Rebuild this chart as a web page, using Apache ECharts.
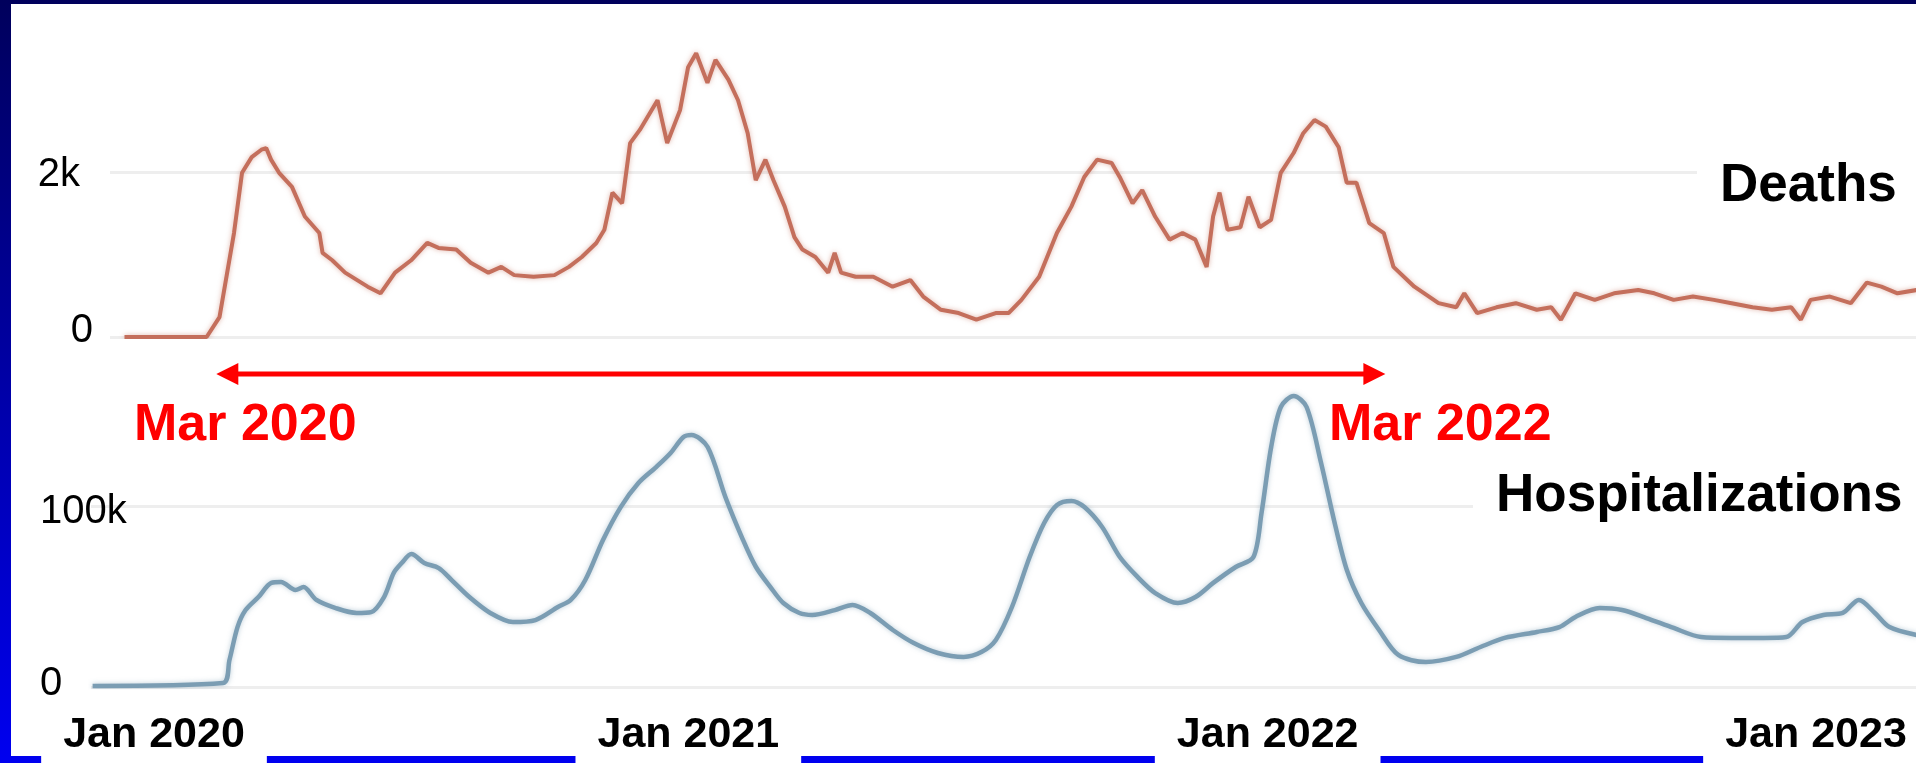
<!DOCTYPE html>
<html>
<head>
<meta charset="utf-8">
<title>Deaths and Hospitalizations</title>
<script src="https://cdn.jsdelivr.net/npm/echarts@6.0.0/dist/echarts.min.js"></script>
<style>
html, body { margin: 0; padding: 0; }
body {
	width: 1916px; height: 763px; overflow: hidden; position: relative;
	background: linear-gradient(to bottom, #00005c 0%, #0000f0 100%);
}
#panel { position: absolute; left: 11px; top: 4px; width: 1905px; height: 752px; background: #fff; }
#GouFang_chart { position: absolute; left: 0; top: 0; width: 1916px; height: 763px; }
</style>
</head>
<body>
<div id="panel"></div>
<div id="GouFang_chart"></div>
<script>
// days counted from 2020-01-01
var deathsDay = [
	21, 72, 80, 89, 94, 100, 106, 109, 112, 117,
	125, 133, 142, 144, 150, 158, 172, 180, 189, 199,
	209, 216, 227, 236, 247, 255, 263, 275, 288, 297,
	305, 314, 319, 324, 330, 335, 341, 352, 358, 366,
	371, 376, 383, 388, 396, 402, 408, 413, 419, 424,
	431, 437, 442, 450, 458, 462, 466, 475, 486, 498,
	509, 517, 528, 539, 550, 562, 570, 578, 589, 600,
	609, 617, 625, 634, 639, 647, 653, 661, 670, 678,
	686, 693, 697, 701, 706, 714, 719, 726, 733, 739,
	747, 753, 760, 767, 775, 780, 786, 794, 803, 809,
	822, 837, 848, 853, 861, 873, 885, 898, 907, 913,
	922, 934, 946, 961, 971, 983, 995, 1008, 1019, 1032,
	1044, 1056, 1062, 1068, 1080, 1093, 1103, 1112, 1122, 1134
];
var deathsValue = [
	0, 0, 240, 1260, 1990, 2180, 2270, 2290, 2150, 1990,
	1820, 1460, 1260, 1020, 930, 780, 610, 530, 780, 930,
	1140, 1080, 1060, 900, 780, 850, 750, 730, 750, 850,
	970, 1140, 1300, 1750, 1620, 2350, 2510, 2870, 2350, 2750,
	3270, 3440, 3080, 3360, 3120, 2870, 2470, 1900, 2150, 1900,
	1580, 1210, 1060, 970, 780, 1020, 780, 730, 730, 610,
	690, 490, 330, 290, 210, 290, 290, 450, 730, 1260,
	1580, 1940, 2150, 2110, 1940, 1620, 1780, 1460, 1180, 1260,
	1180, 850, 1460, 1750, 1300, 1330, 1700, 1330, 1420, 1990,
	2230, 2470, 2630, 2550, 2300, 1870, 1870, 1380, 1260, 850,
	610, 410, 360, 530, 290, 360, 410, 330, 360, 210,
	530, 450, 530, 570, 530, 450, 490, 450, 410, 360,
	330, 360, 210, 450, 490, 410, 660, 610, 530, 570
];
var hospDay = [
	1, 82, 86, 91, 96, 104, 112, 118, 127, 132,
	140, 152, 165, 174, 182, 188, 193, 199, 207, 216,
	224, 235, 248, 262, 276, 290, 298, 307, 318, 329,
	340, 351, 360, 368, 373, 383, 394, 405, 413, 422,
	430, 440, 448, 462, 473, 484, 498, 511, 526, 542,
	553, 562, 572, 583, 592, 600, 609, 617, 628, 639,
	650, 661, 675, 686, 697, 711, 722, 727, 733, 739,
	747, 755, 764, 772, 780, 789, 800, 812, 829, 848,
	863, 878, 898, 912, 922, 937, 951, 966, 983, 1000,
	1019, 1039, 1053, 1063, 1076, 1088, 1098, 1108, 1117, 1134
];
var hospValue = [
	600, 2200, 14900, 33100, 42500, 49700, 57500, 58000, 53600, 55200,
	48100, 43600, 40900, 41400, 49700, 63000, 68500, 73500, 68500, 65700,
	59100, 49700, 40900, 35900, 37000, 44200, 48100, 59100, 81200, 99400,
	112700, 121500, 129300, 138100, 139200, 132600, 105000, 81200, 66300, 55200,
	46400, 40900, 39800, 42500, 45300, 40900, 31500, 24300, 18800, 16600,
	19300, 26000, 44200, 71800, 90600, 100600, 102800, 99400, 88400, 71800,
	60800, 51900, 46400, 49700, 57500, 66300, 71800, 96100, 132600, 154700,
	160800, 154700, 123800, 92300, 64600, 46400, 31500, 17700, 13800, 16600,
	22100, 27100, 30400, 33100, 38700, 43600, 42500, 38100, 32600, 27600,
	27100, 27100, 27600, 35900, 39800, 40900, 48100, 40900, 33100, 28700
];
var yearLabels = ['Jan 2020', 'Jan 2021', 'Jan 2022', 'Jan 2023'];
var arrowDates = ['2020-03-19', '2022-03-15'];
var arrowLabels = ['Mar 2020', 'Mar 2022'];

var FONT = '"Liberation Sans", Arial, sans-serif';
var t0 = Date.UTC(2020, 0, 1);
function dayToTime(d) { return t0 + d * 86400000; }
function kLabel(v) { return v === 0 ? '0' : (v / 1000) + 'k'; }
function $extend(a, b) {
	var o = {}, key;
	for (key in a) o[key] = a[key];
	for (key in b) o[key] = b[key];
	return o;
}

var deathsData = [];
for (var i = 0; i < deathsDay.length; i++) deathsData.push([dayToTime(deathsDay[i]), deathsValue[i]]);
var hospData = [];
for (var j = 0; j < hospDay.length; j++) hospData.push([dayToTime(hospDay[j]), hospValue[j]]);

var myChart = echarts.init(document.getElementById('GouFang_chart'));

var gridLine = { lineStyle: { color: '#eeeeee', width: 3 }, showMaxLine: false };
var tickFont = { fontFamily: FONT, fontSize: 40, color: '#000' };
var labelText = { fontFamily: FONT, fontWeight: 'bold', fontSize: 53, lineHeight: 60, color: '#000' };
var redText = { fontFamily: FONT, fontWeight: 'bold', fontSize: 52, lineHeight: 60, color: '#ff0000' };

// year labels sit a bit off an even spacing in the original slide: nudge them (px)
var yearNudge = [7, -15, 8, 0];
var yearRich = {
	b: {
		fontFamily: FONT, fontSize: 43, fontWeight: 'bold', color: '#000', lineHeight: 46,
		backgroundColor: '#fff', padding: [12, 22, 14, 22]
	}
};
for (var n = 0; n < yearNudge.length; n++) {
	yearRich['g' + n] = { width: Math.abs(yearNudge[n]) * 2, lineHeight: 46 };
}

var option = {
	animation: false,
	backgroundColor: 'transparent',
	grid: [
		{ left: 110, right: 0, top: 7, height: 330, outerBoundsMode: 'none' },
		{ left: 91, right: 0, top: 325, height: 362, outerBoundsMode: 'none' },
		{ left: 147, right: 100, top: 640, height: 40, outerBoundsMode: 'none' }   // only carries the year labels
	],
	xAxis: [
		{ type: 'time', gridIndex: 0, min: dayToTime(12), max: dayToTime(1133.5), show: false },
		{ type: 'time', gridIndex: 1, min: dayToTime(0), max: dayToTime(1133.5), show: false },
		{
			type: 'category', gridIndex: 2, data: yearLabels, boundaryGap: false,
			axisLine: { show: false }, axisTick: { show: false }, splitLine: { show: false },
			axisLabel: {
				interval: 0, margin: 33,
				formatter: function (v, idx) {
					var s = yearNudge[idx] || 0;
					if (s > 0) return '{g' + idx + '|}{b|' + v + '}';
					if (s < 0) return '{b|' + v + '}{g' + idx + '|}';
					return '{b|' + v + '}';
				},
				rich: yearRich
			}
		}
	],
	yAxis: [
		{
			type: 'value', gridIndex: 0, min: 0, max: 4000, interval: 2000,
			axisLine: { show: false }, axisTick: { show: false }, splitLine: gridLine,
			axisLabel: {
				showMaxLabel: false, margin: 17,
				formatter: function (v) { return v === 0 ? '{z|0}' : '{k|' + kLabel(v) + '}'; },
				rich: {
					z: $extend(tickFont, { padding: [0, 0, 12, 0] }),
					k: $extend(tickFont, { padding: [6, 13, 0, 0] })
				}
			}
		},
		{
			type: 'value', gridIndex: 1, min: 0, max: 200000, interval: 100000,
			axisLine: { show: false }, axisTick: { show: false }, splitLine: gridLine,
			axisLabel: {
				showMaxLabel: false, margin: 51, align: 'left',
				formatter: function (v) { return v === 0 ? '{z|0}' : '{k|' + kLabel(v) + '}'; },
				rich: {
					z: $extend(tickFont, { padding: [0, 0, 6, 0] }),
					k: $extend(tickFont, { padding: [12, 0, 0, 0] })
				}
			}
		},
		{ type: 'value', gridIndex: 2, show: false }
	],
	title: [
		{ text: 'Deaths', left: 1697, top: 148, padding: [8, 30, 8, 23], backgroundColor: '#fff', textStyle: labelText },
		{ text: 'Hospitalizations', left: 1473, top: 458, padding: [8, 30, 8, 23], backgroundColor: '#fff', textStyle: labelText },
		{ text: arrowLabels[0], left: 134, top: 396, padding: 0, textStyle: redText },
		{ text: arrowLabels[1], left: 1329, top: 396, padding: 0, textStyle: redText }
	],
	series: [
		{
			name: 'Deaths', type: 'line', xAxisIndex: 0, yAxisIndex: 0, data: deathsData,
			showSymbol: false, z: 3,
			lineStyle: { color: '#c46f5c', width: 4, shadowColor: 'rgba(196,111,92,0.5)', shadowBlur: 5 }
		},
		{
			name: 'Hospitalizations', type: 'line', xAxisIndex: 1, yAxisIndex: 1, data: hospData,
			showSymbol: false, smooth: 0.3, z: 3,
			lineStyle: { color: '#7b9db3', width: 4.5, shadowColor: 'rgba(123,157,179,0.5)', shadowBlur: 5 }
		}
	]
};
myChart.setOption(option);

// red double arrow Mar 2020 -> Mar 2022, placed through the deaths time axis
var ax1 = myChart.convertToPixel({ xAxisIndex: 0 }, Date.parse(arrowDates[0]));
var ax2 = myChart.convertToPixel({ xAxisIndex: 0 }, Date.parse(arrowDates[1]));
var ay = 374;
myChart.setOption({
	graphic: [
		{ type: 'line', shape: { x1: ax1 + 18, y1: ay, x2: ax2 - 18, y2: ay }, style: { stroke: '#ff0000', lineWidth: 5 } },
		{ type: 'polygon', shape: { points: [[ax1, ay], [ax1 + 22, ay - 11], [ax1 + 22, ay + 11]] }, style: { fill: '#ff0000' } },
		{ type: 'polygon', shape: { points: [[ax2, ay], [ax2 - 22, ay - 11], [ax2 - 22, ay + 11]] }, style: { fill: '#ff0000' } }
	]
});
</script>
</body>
</html>
